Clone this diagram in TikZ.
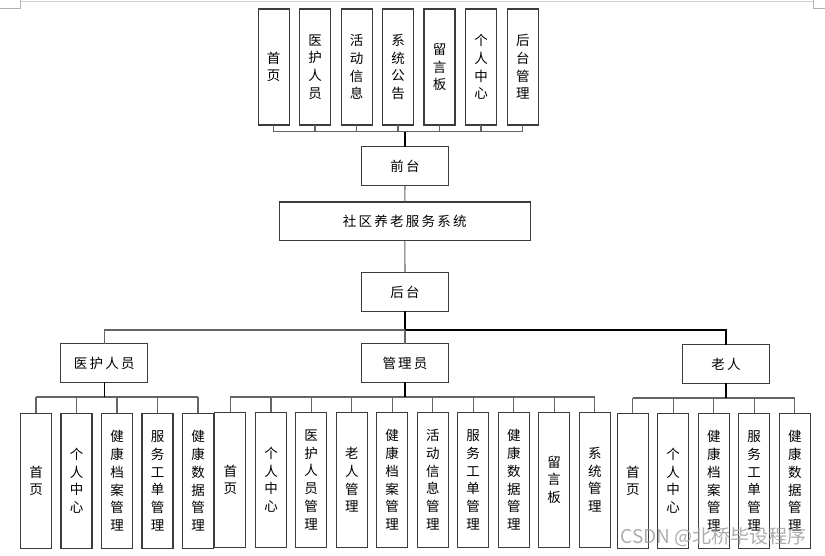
\documentclass[tikz,border=0pt]{standalone}
\usepackage{fontspec}
\newfontfamily\cjk{Noto Sans CJK SC}
\definecolor{linec}{RGB}{60,60,60}
\definecolor{busc}{RGB}{100,100,100}
\begin{document}
\begin{tikzpicture}[x=1pt,y=-1pt,
  box/.style={draw=linec,line width=1.1pt,inner sep=0pt,outer sep=0pt,align=center,
    font=\cjk\fontsize{13.5}{17.7}\selectfont},
  tallbox/.style={box,minimum width=31pt,minimum height=116pt},
  leaf/.style={box,minimum width=31pt,minimum height=135pt},
  hbox/.style={box,minimum width=87pt,minimum height=38.6pt},
  conn/.style={draw=busc,line width=1.1pt},
  trunk/.style={draw=black,line width=1.4pt}]
\useasboundingbox (0,0) rectangle (825,555);
% page marks
\draw[gray!35,line width=0.8pt] (20,1) -- (813,1);
\draw[gray!60,line width=0.8pt] (0,8) -- (20,8) -- (20,0);
\draw[gray!60,line width=0.8pt] (825,8) -- (813,8) -- (813,0);
% top row
\node[tallbox] (t1) at (273.7,67) {首\\页};
\node[tallbox] (t2) at (315,67) {医\\护\\人\\员};
\node[tallbox] (t3) at (356.7,67) {活\\动\\信\\息};
\node[tallbox] (t4) at (398,67) {系\\统\\公\\告};
\node[tallbox] (t5) at (439.5,67) {留\\言\\板};
\node[tallbox] (t6) at (481,67) {个\\人\\中\\心};
\node[tallbox] (t7) at (522.8,67) {后\\台\\管\\理};
\node[hbox] (qt) at (405,166) {前\,台};
\node[box,minimum width=251pt,minimum height=38.7pt] (sys) at (404.8,221.3) {社\,区\,养\,老\,服\,务\,系\,统};
\node[hbox] (ht) at (405,292) {后\,台};
\coordinate (bT) at (405,131.5);
\foreach \n in {t1,t2,t3,t4,t5,t6,t7}{\draw[conn] (\n.south) -- (\n.south |- bT);}
\draw[conn] (t1.south |- bT) -- (t7.south |- bT);
\draw[trunk] (qt.north) -- (bT);
\draw[conn] (qt.south) -- (sys.north);
\draw[conn] (sys.south) -- (ht.north);
% second level
\node[hbox] (yh) at (104.2,363) {医\,护\,人\,员};
\node[hbox] (gl) at (405,363) {管\,理\,员};
\node[hbox] (lr) at (726,364) {老\,人};
\coordinate (bM) at (405,330);
\draw[trunk] (ht.south) -- (bM);
\draw[conn] (yh.north) -- (yh.north |- bM) -- (bM);
\draw[trunk] (bM) -- (lr.north |- bM) -- (lr.north);
\draw[conn] (gl.north) -- (bM);
% group 1
\node[leaf] (a1) at (36,480.8) {首\\页};
\node[leaf] (a2) at (76.5,480.8) {个\\人\\中\\心};
\node[leaf] (a3) at (117,480.8) {健\\康\\档\\案\\管\\理};
\node[leaf] (a4) at (157.5,480.8) {服\\务\\工\\单\\管\\理};
\node[leaf] (a5) at (198,480.8) {健\\康\\数\\据\\管\\理};
\coordinate (bA) at (104.2,397);
\foreach \n in {a1,a2,a3,a4,a5}{\draw[conn] (\n.north) -- (\n.north |- bA);}
\draw[conn] (a1.north |- bA) -- (a5.north |- bA);
\draw[trunk] (yh.south) -- (bA);
% group 2
\node[leaf] (b1) at (230.3,479.8) {首\\页};
\node[leaf] (b2) at (271,479.8) {个\\人\\中\\心};
\node[leaf] (b3) at (311.2,479.8) {医\\护\\人\\员\\管\\理};
\node[leaf] (b4) at (351.8,479.8) {老\\人\\管\\理};
\node[leaf] (b5) at (392.2,479.8) {健\\康\\档\\案\\管\\理};
\node[leaf] (b6) at (432.8,479.8) {活\\动\\信\\息\\管\\理};
\node[leaf] (b7) at (473.2,479.8) {服\\务\\工\\单\\管\\理};
\node[leaf] (b8) at (513.8,479.8) {健\\康\\数\\据\\管\\理};
\node[leaf] (b9) at (554.2,479.8) {留\\言\\板};
\node[leaf] (b10) at (594.8,479.8) {系\\统\\管\\理};
\coordinate (bB) at (405,397);
\foreach \n in {b1,b2,b3,b4,b5,b6,b7,b8,b9,b10}{\draw[conn] (\n.north) -- (\n.north |- bB);}
\draw[conn] (b1.north |- bB) -- (b10.north |- bB);
\draw[trunk] (gl.south) -- (bB);
% group 3
\node[leaf] (c1) at (632.8,480.8) {首\\页};
\node[leaf] (c2) at (673.2,480.8) {个\\人\\中\\心};
\node[leaf] (c3) at (713.8,480.8) {健\\康\\档\\案\\管\\理};
\node[leaf] (c4) at (754.2,480.8) {服\\务\\工\\单\\管\\理};
\node[leaf] (c5) at (794.8,480.8) {健\\康\\数\\据\\管\\理};
\coordinate (bC) at (726,398);
\foreach \n in {c1,c2,c3,c4,c5}{\draw[conn] (\n.north) -- (\n.north |- bC);}
\draw[conn] (c1.north |- bC) -- (c5.north |- bC);
\draw[trunk] (lr.south) -- (bC);
% watermark
\node[font=\cjk\fontsize{19}{19}\selectfont,text=gray!75,opacity=0.85,inner sep=0pt] (wm) at (713.5,537) {CSDN @北桥毕设程序};
\end{tikzpicture}
\end{document}
